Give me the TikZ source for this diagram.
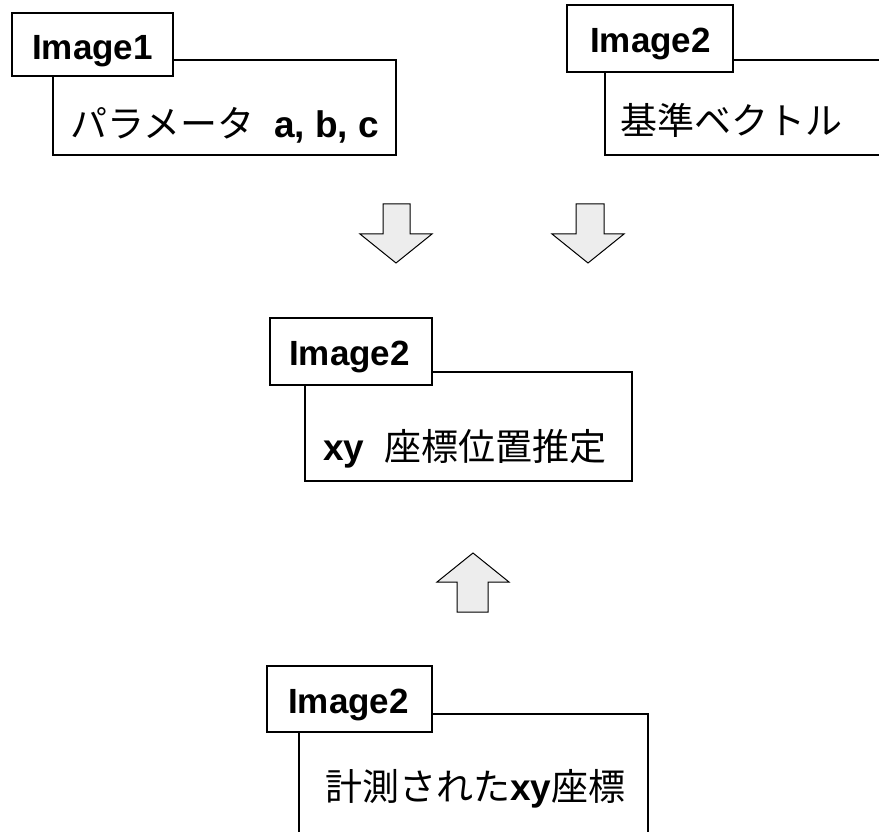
\documentclass[tikz,border=0pt]{standalone}
\usepackage{fontspec}
\setmainfont{Liberation Sans}
\newfontfamily\jp{Noto Sans CJK JP}
\begin{document}
\begin{tikzpicture}[x=1pt,y=-1pt,
  boxline/.style={draw=black,line width=2.4pt},
  tabbox/.style={draw=black,line width=2.4pt,fill=white},
  lbl/.style={anchor=base west,inner sep=0pt,font=\fontsize{35}{40}\selectfont\bfseries},
  jtxt/.style={anchor=base west,inner sep=0pt,font=\fontsize{37}{42}\selectfont},
  blockarrow/.style={draw=black,line width=1pt,fill=black!7,line join=miter}]
\useasboundingbox[fill=white] (0,0) rectangle (879,832);
\clip (0,0) rectangle (879,832);
% box 1
\draw[boxline] (53,60) rectangle (396,155);
\filldraw[tabbox] (12,13) rectangle (173,76);
\node[lbl] (t1) at (32,60) {Image1};
\node[jtxt] (c1) at (70,138) {{\jp パラメータ}\hspace{20pt}\textbf{a, b, c}};
% box 2
\draw[boxline] (605,60) rectangle (900,155);
\filldraw[tabbox] (567,5) rectangle (733,72);
\node[lbl] (t2) at (590,53) {Image2};
\node[jtxt] (c2) at (620,135) {\jp 基準ベクトル};
% box 3
\draw[boxline] (305,372) rectangle (632,481);
\filldraw[tabbox] (270,318) rectangle (432,385);
\node[lbl] (t3) at (289,365) {Image2};
\node[jtxt] (c3) at (323,460) {\textbf{xy}\hspace{20pt}{\jp 座標位置推定}};
% box 4
\draw[boxline] (299,714) rectangle (648,900);
\filldraw[tabbox] (267,666) rectangle (432,732);
\node[lbl] (t4) at (288,713) {Image2};
\node[jtxt] (c4) at (325,800) {{\jp 計測された}\textbf{xy}{\jp 座標}};
% arrows
\draw[blockarrow] (383,204) -- (410,204) -- (410,234) -- (432,234) -- (396,263) -- (360,234) -- (383,234) -- cycle;
\draw[blockarrow] (576,204) -- (604,204) -- (604,234) -- (624,234) -- (588,263) -- (552,234) -- (576,234) -- cycle;
\draw[blockarrow] (457,612) -- (488,612) -- (488,582) -- (509,582) -- (473,553) -- (437,582) -- (457,582) -- cycle;
\end{tikzpicture}
\end{document}
